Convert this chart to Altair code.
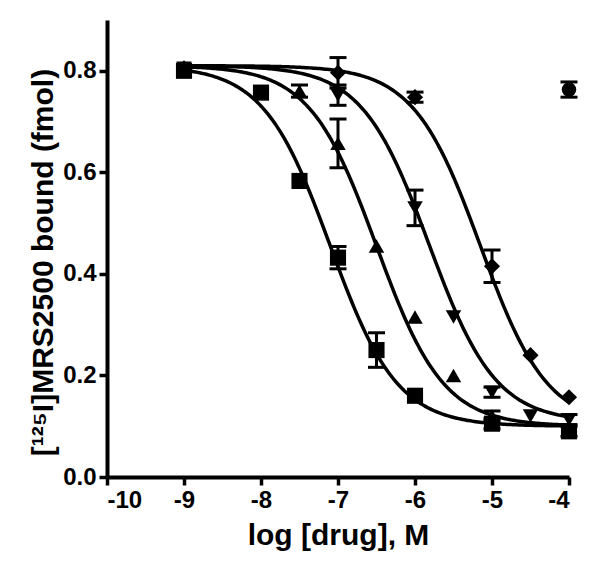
import altair as alt
import numpy as np
import pandas as pd

# ---- data ----
sq_x = [-9, -8, -7.5, -7, -6.5, -6, -5, -4]
sq_y = [0.80, 0.757, 0.583, 0.432, 0.250, 0.160, 0.105, 0.090]
sq_e = [0.0, 0.0, 0.0, 0.022, 0.034, 0.0, 0.010, 0.010]

tu_x = [-9, -7.5, -7, -6.5, -6, -5.5, -5, -4]
tu_y = [0.805, 0.760, 0.657, 0.455, 0.315, 0.200, 0.120, 0.100]
tu_e = [0.0, 0.012, 0.048, 0.0, 0.0, 0.0, 0.010, 0.0]

td_x = [-9, -7, -6, -5.5, -5, -4.5, -4]
td_y = [0.805, 0.752, 0.530, 0.315, 0.167, 0.120, 0.113]
td_e = [0.0, 0.020, 0.035, 0.0, 0.010, 0.0, 0.010]

di_x = [-9, -7, -6, -5, -4.5, -4]
di_y = [0.805, 0.796, 0.748, 0.415, 0.240, 0.157]
di_e = [0.0, 0.030, 0.010, 0.032, 0.0, 0.0]

ci_x = [-4]
ci_y = [0.763]
ci_e = [0.015]

# fitted curve parameters: top, bottom, logIC50, hill
fit_names = ["square", "triangle-up", "triangle-down", "diamond"]
fit_top = [0.810, 0.810, 0.810, 0.810]
fit_bottom = [0.100, 0.100, 0.108, 0.100]
fit_logic50 = [-7.10, -6.50, -5.82, -5.15]
fit_hill = [1.0, 1.0, 1.0, 1.0]

x_ticks = [-10, -9, -8, -7, -6, -5, -4]
y_ticks = [0.0, 0.2, 0.4, 0.6, 0.8]

# ---- build tables ----
rows = []
for name, xs, ys, es in [("square", sq_x, sq_y, sq_e),
                         ("triangle-up", tu_x, tu_y, tu_e),
                         ("triangle-down", td_x, td_y, td_e),
                         ("diamond", di_x, di_y, di_e),
                         ("circle", ci_x, ci_y, ci_e)]:
    for x, y, e in zip(xs, ys, es):
        rows.append({"shape": name, "x": x, "y": y, "lo": y - e, "hi": y + e, "e": e})
pts = pd.DataFrame(rows)
err = pts[pts["e"] > 0]

crows = []
xx = np.linspace(-9, -4, 200)
for n, t, b, c, h in zip(fit_names, fit_top, fit_bottom, fit_logic50, fit_hill):
    yy = b + (t - b) / (1 + 10 ** ((xx - c) * h))
    for a, v in zip(xx, yy):
        crows.append({"shape": n, "x": float(a), "y": float(v)})
curves = pd.DataFrame(crows)

xs = alt.Scale(domain=[-10, -4], nice=False, zero=False)
ys = alt.Scale(domain=[0, 0.9], nice=False)

X = alt.X("x:Q", scale=xs, axis=alt.Axis(values=x_ticks, title="log [drug], M",
                                         labelExpr="toString(datum.value)"))
Y = alt.Y("y:Q", scale=ys, axis=alt.Axis(values=y_ticks, format=".1f", titleY=242,
                                         title="[¹²⁵I]MRS2500 bound (fmol)"))

line = alt.Chart(curves).mark_line(color="black", strokeWidth=3.5).encode(
    x=X, y=Y, detail="shape:N")

bars = alt.Chart(err).mark_rule(color="black", strokeWidth=3, opacity=1).encode(
    x="x:Q", y="lo:Q", y2="hi:Q")
cap_hi = alt.Chart(err).mark_tick(color="black", orient="horizontal", size=17, thickness=3,
                                  opacity=1).encode(x="x:Q", y="hi:Q")
cap_lo = alt.Chart(err).mark_tick(color="black", orient="horizontal", size=17, thickness=3,
                                  opacity=1).encode(x="x:Q", y="lo:Q")

layers = [line, bars, cap_hi, cap_lo]
sizes = {"square": 260, "triangle-up": 240, "triangle-down": 240, "diamond": 260, "circle": 210}
for name, sz in sizes.items():
    layers.append(alt.Chart(pts[pts["shape"] == name]).mark_point(
        shape=name, filled=True, color="black", opacity=1, size=sz).encode(x="x:Q", y="y:Q"))

chart = alt.layer(*layers).properties(
    width=462, height=457,
    autosize=alt.AutoSizeParams(type="none"),
    padding={"left": 99, "top": 12, "right": 24, "bottom": 80},
).configure_view(stroke=None).configure_axis(
    grid=False, domainColor="black", domainWidth=4, tickColor="black", tickWidth=3.5,
    tickSize=8, labelFont="Liberation Sans", labelFontWeight="bold", labelFontSize=24,
    labelColor="black", titleFont="Liberation Sans", titleFontWeight="bold",
    titleFontSize=30, titleColor="black", labelPadding=3,
).configure_axisX(titlePadding=8).configure_axisY(titlePadding=4)

chart.save("out.html", embed_options={"renderer": "svg", "actions": False})
